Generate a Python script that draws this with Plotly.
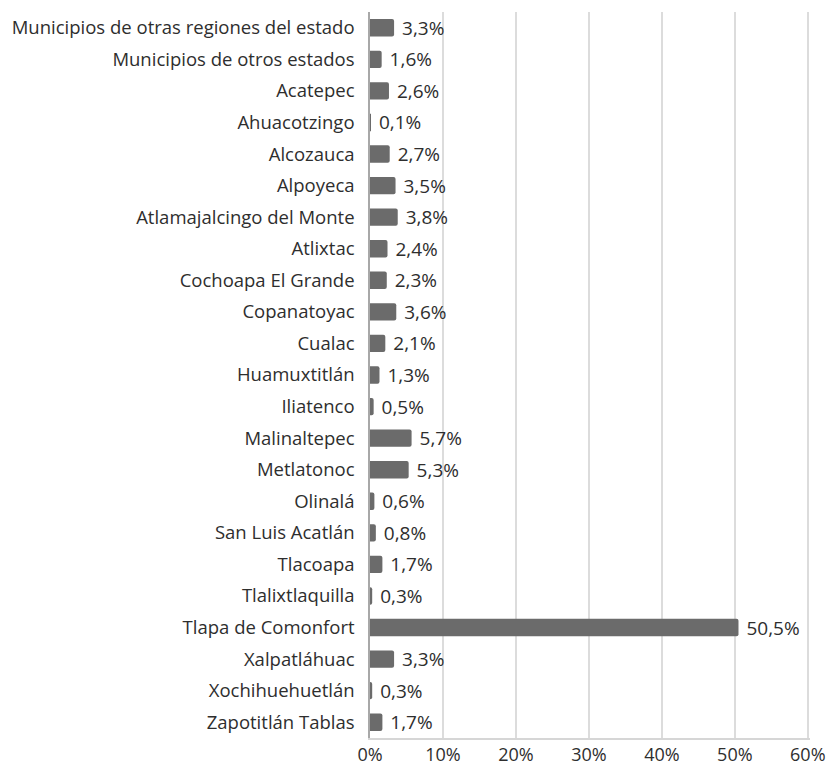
import plotly.graph_objects as go

municipios = [
    "Municipios de otras regiones del estado",
    "Municipios de otros estados",
    "Acatepec",
    "Ahuacotzingo",
    "Alcozauca",
    "Alpoyeca",
    "Atlamajalcingo del Monte",
    "Atlixtac",
    "Cochoapa El Grande",
    "Copanatoyac",
    "Cualac",
    "Huamuxtitlán",
    "Iliatenco",
    "Malinaltepec",
    "Metlatonoc",
    "Olinalá",
    "San Luis Acatlán",
    "Tlacoapa",
    "Tlalixtlaquilla",
    "Tlapa de Comonfort",
    "Xalpatláhuac",
    "Xochihuehuetlán",
    "Zapotitlán Tablas",
]
porcentajes = [3.3, 1.6, 2.6, 0.1, 2.7, 3.5, 3.8, 2.4, 2.3, 3.6, 2.1, 1.3, 0.5,
               5.7, 5.3, 0.6, 0.8, 1.7, 0.3, 50.5, 3.3, 0.3, 1.7]
ticks_x = [0, 10, 20, 30, 40, 50, 60]
ticks_txt = ["0%", "10%", "20%", "30%", "40%", "50%", "60%"]

etiquetas = [" " + f"{v:.1f}%".replace(".", ",") for v in porcentajes]

fuente = "'Open Sans', 'Noto Sans', sans-serif"
gris_texto = "#2e2e2e"

fig = go.Figure(
    go.Bar(
        x=porcentajes,
        y=municipios,
        orientation="h",
        marker=dict(color="#6b6b6b", line=dict(width=0), cornerradius=2),
        text=etiquetas,
        textposition="outside",
        constraintext="none",
        cliponaxis=False,
        textfont=dict(family=fuente, size=19, color=gris_texto),
        width=0.55,
    )
)

fig.update_layout(
    width=836,
    height=770,
    margin=dict(l=370, r=26, t=12, b=32, autoexpand=False),
    paper_bgcolor="white",
    plot_bgcolor="white",
    showlegend=False,
    font=dict(family=fuente, size=18, color=gris_texto),
    xaxis=dict(
        range=[0, 60.3],
        tickvals=ticks_x,
        ticktext=ticks_txt,
        showgrid=True,
        gridcolor="#dcdcdc",
        gridwidth=1.5,
        zeroline=False,
        showline=True,
        linecolor="#d6d6d6",
        linewidth=1.5,
        ticks="",
        automargin=False,
        ticklabelstandoff=0,
        tickfont=dict(family=fuente, size=18, color=gris_texto),
    ),
    yaxis=dict(
        autorange="reversed",
        showgrid=False,
        showline=True,
        linecolor="#a8a8a8",
        linewidth=1.5,
        ticks="",
        automargin=False,
        ticklabelstandoff=10,
        tickfont=dict(family=fuente, size=18.5, color=gris_texto),
    ),
)

fig.write_html("out.html")
